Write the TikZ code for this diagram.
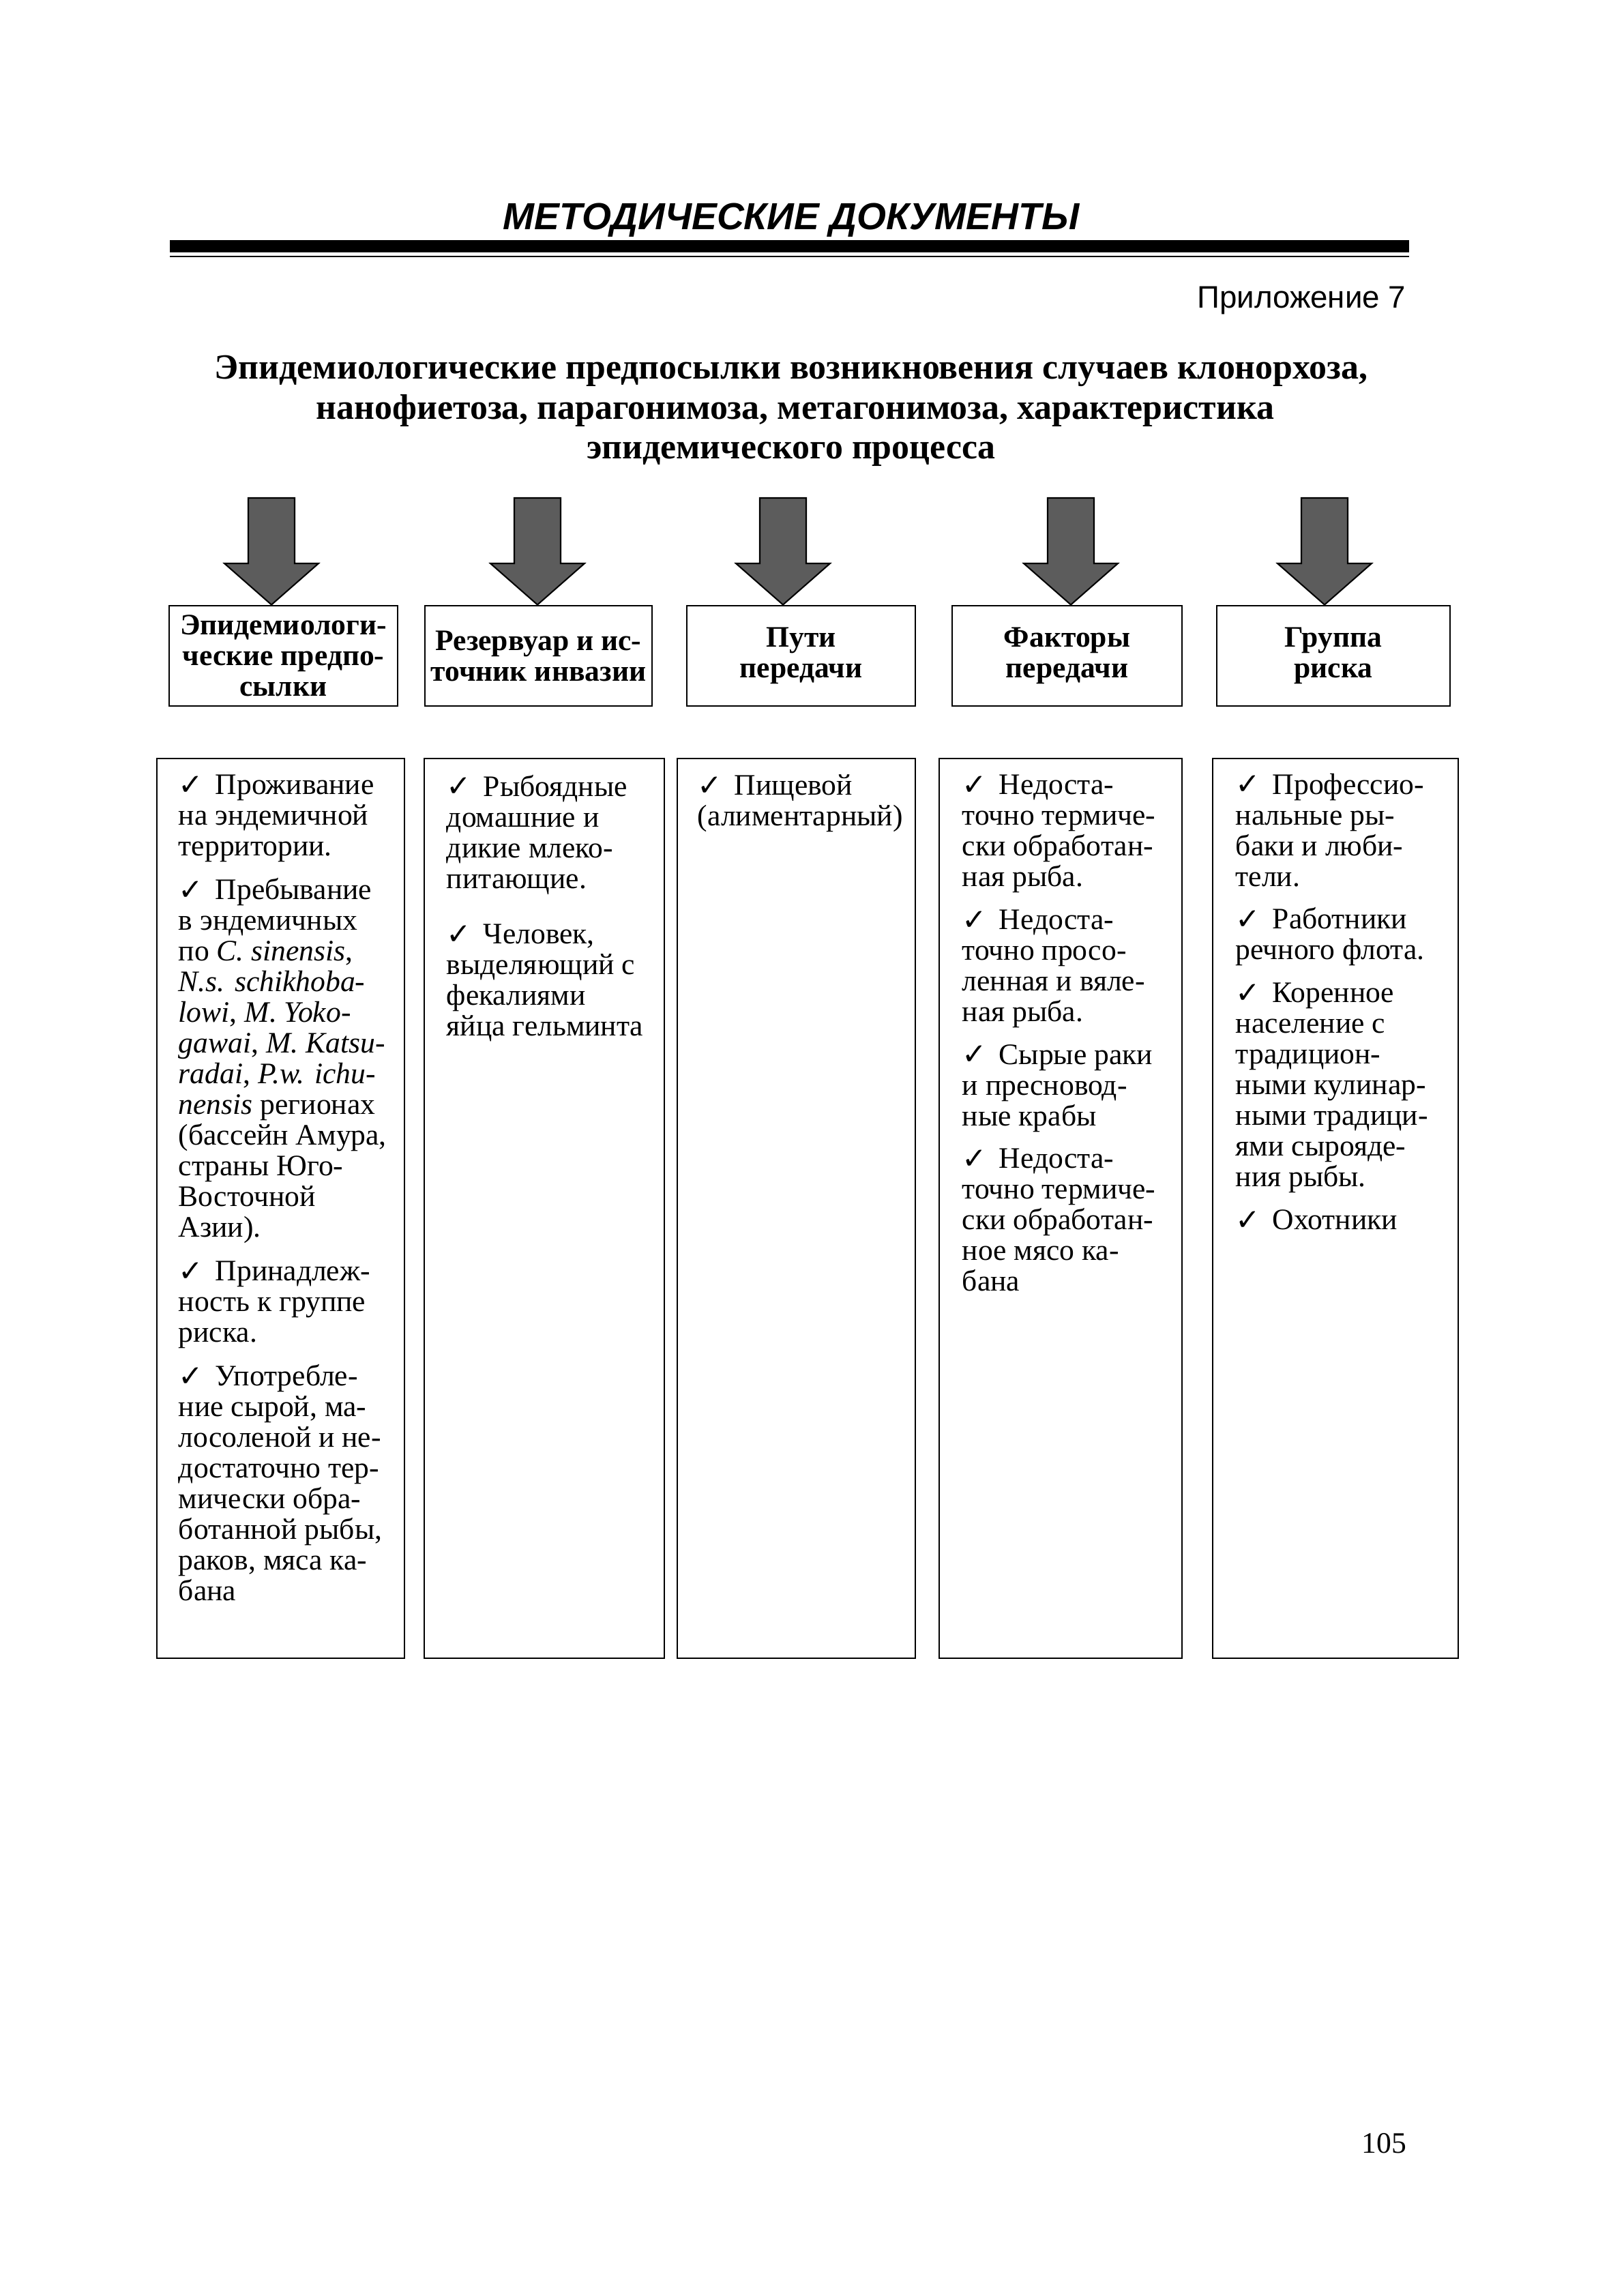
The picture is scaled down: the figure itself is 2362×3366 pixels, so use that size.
\documentclass[tikz,border=0pt]{standalone}
\usepackage{fontspec}
\setmainfont{Liberation Serif}
\newfontfamily\sansfnt{Liberation Sans}
\newfontfamily\symfnt{DejaVu Sans}
\newcommand\chk{\makebox[13pt][l]{\raisebox{-0.2pt}{\symfnt\fontsize{10.5}{10}\selectfont ✓}}}
\def\u{0.2409pt}
\begin{document}
\begin{tikzpicture}[x=0.2409pt,y=-0.2409pt,
  hbox/.style={draw, line width=0.7pt, align=center, inner sep=0pt,
    minimum height=147*\u, font=\bfseries\fontsize{10.5}{10.84}\selectfont},
  colbox/.style={draw, line width=0.6pt, minimum height=1319*\u, inner sep=0pt},
  coltext/.style={anchor=north west, inner sep=0pt, align=left,
    font=\fontsize{10.5}{10.84}\selectfont},
  fatarrow/.style={fill=black!64, draw=black, line width=0.5pt, line join=miter}]
\fill[white] (0,0) rectangle (2362,3366);
\useasboundingbox (0,0) rectangle (2362,3366);

% header
\node[anchor=base, inner sep=0pt, font=\sansfnt\bfseries\itshape\fontsize{13.3}{13.3}\selectfont] (hdr) at (1160,336) {МЕТОДИЧЕСКИЕ ДОКУМЕНТЫ};
\fill (249,352) rectangle (2066,370);
\draw[line width=0.5pt] (249,376) -- (2066,376);
\node[anchor=base east, inner sep=0pt, font=\sansfnt\fontsize{11}{11}\selectfont] (app) at (2062,451) {Приложение 7};

% title
\begin{scope}[every node/.style={anchor=base, inner sep=0pt, font=\bfseries\fontsize{12.5}{12.5}\selectfont}]
\node (ti1) at (1160,555) {Эпидемиологические предпосылки возникновения случаев клонорхоза,};
\node (ti2) at (1166,614) {нанофиетоза, парагонимоза, метагонимоза, характеристика};
\node (ti3) at (1160,672) {эпидемического процесса};
\end{scope}

% header boxes
\node[hbox, minimum width=335*\u] (h1) at (415.5,961.5) {Эпидемиологи-\\ческие предпо-\\сылки};
\node[hbox, minimum width=333*\u] (h2) at (789.5,961.5) {Резервуар и ис-\\точник инвазии};
\node[hbox, minimum width=335*\u] (h3) at (1174.5,961.5) {Пути\\передачи};
\node[hbox, minimum width=337*\u] (h4) at (1564.5,961.5) {Факторы\\передачи};
\node[hbox, minimum width=342*\u] (h5) at (1955,961.5) {Группа\\риска};

% fat arrows
\foreach \cx/\b in {398/h1, 788/h2, 1148/h3, 1570/h4, 1942/h5}{
  \draw[fatarrow] (\cx-34,730) -- (\cx+34,730) -- (\cx+34,826) -- (\cx+69,826)
     -- (\b.north -| {(\cx,0)}) -- (\cx-69,826) -- (\cx-34,826) -- cycle;
}

% column boxes
\node[colbox, minimum width=363*\u] (c1) at (411.5,1771.5) {};
\node[colbox, minimum width=352*\u] (c2) at (798,1771.5) {};
\node[colbox, minimum width=349*\u] (c3) at (1167.5,1771.5) {};
\node[colbox, minimum width=356*\u] (c4) at (1555,1771.5) {};
\node[colbox, minimum width=360*\u] (c5) at (1958,1771.5) {};

% column texts
\node[coltext] (t1) at (261,1135) {\chk Проживание\\
на эндемичной\\
территории.\\[4.6pt]
\chk Пребывание\\
в эндемичных\\
по \textit{C. sinensis},\\
\textit{N.s. schikhoba-}\\
\textit{lowi}, \textit{M. Yoko-}\\
\textit{gawai}, \textit{M. Katsu-}\\
\textit{radai}, \textit{P.w. ichu-}\\
\textit{nensis} регионах\\
(бассейн Амура,\\
страны Юго-\\
Восточной\\
Азии).\\[4.6pt]
\chk Принадлеж-\\
ность к группе\\
риска.\\[4.6pt]
\chk Употребле-\\
ние сырой, ма-\\
лосоленой и не-\\
достаточно тер-\\
мически обра-\\
ботанной рыбы,\\
раков, мяса ка-\\
бана};

\node[coltext] (t2) at (654,1135) {\chk Рыбоядные\\
домашние и\\
дикие млеко-\\
питающие.\\[8.8pt]
\chk Человек,\\
выделяющий с\\
фекалиями\\
яйца гельминта};

\node[coltext] (t3) at (1022,1135) {\chk Пищевой\\
(алиментарный)};

\node[coltext] (t4) at (1410,1135) {\chk Недоста-\\
точно термиче-\\
ски обработан-\\
ная рыба.\\[4.3pt]
\chk Недоста-\\
точно просо-\\
ленная и вяле-\\
ная рыба.\\[4.3pt]
\chk Сырые раки\\
и пресновод-\\
ные крабы\\[4.3pt]
\chk Недоста-\\
точно термиче-\\
ски обработан-\\
ное мясо ка-\\
бана};

\node[coltext] (t5) at (1811,1133) {\chk Профессио-\\
нальные ры-\\
баки и люби-\\
тели.\\[4.3pt]
\chk Работники\\
речного флота.\\[4.3pt]
\chk Коренное\\
население с\\
традицион-\\
ными кулинар-\\
ными традици-\\
ями сыроядe-\\
ния рыбы.\\[4.3pt]
\chk Охотники};

% page number
\node[anchor=base east, inner sep=0pt, font=\fontsize{10.5}{10.5}\selectfont] (pg) at (2063,3156) {105};
\end{tikzpicture}
\end{document}
